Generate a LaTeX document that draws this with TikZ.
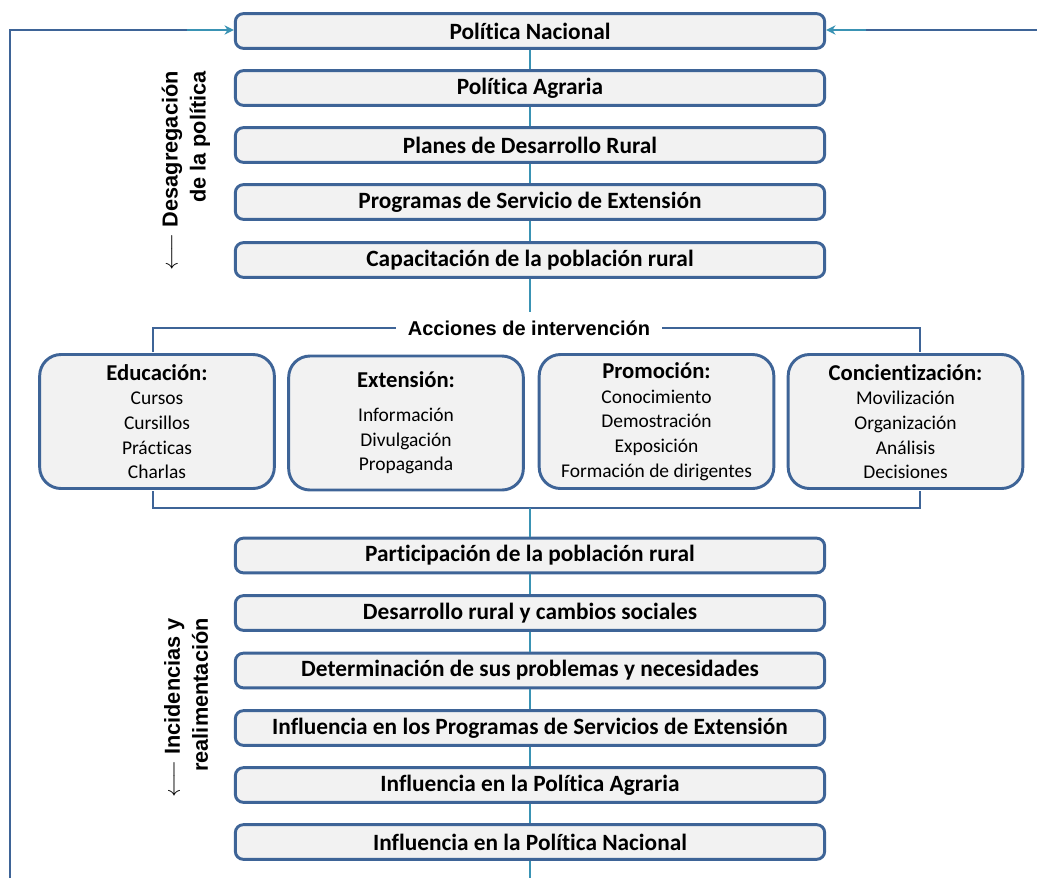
\documentclass[tikz,border=0pt]{standalone}
\usepackage{fontspec}
\setmainfont{Carlito}[Ligatures={NoCommon,NoRare}]
\newfontfamily\arialf{Liberation Sans}
\newcommand{\tiNL}{t\kern0pt i}
\usetikzlibrary{arrows.meta}
\definecolor{bdr}{HTML}{3E6497}
\definecolor{fillc}{HTML}{F2F2F2}
\definecolor{tealc}{HTML}{3A93B4}
\begin{document}
\begin{tikzpicture}[x=0.75pt,y=-0.75pt,
  mainbox/.style={draw=bdr, fill=fillc, line width=2.2pt, rounded corners=6pt,
    minimum width=442pt, minimum height=26pt, inner sep=0pt,
    font=\fontsize{17.5}{21}\selectfont\bfseries},
  bigbox/.style={draw=bdr, fill=fillc, line width=2.2pt, rounded corners=16pt,
    minimum width=176pt, minimum height=100.5pt, inner sep=0pt, align=center,
    font=\fontsize{14.6}{18.5}\selectfont},
  conn/.style={draw=tealc, line width=1.5pt},
  bline/.style={draw=bdr, line width=2.2pt},
  side/.style={rotate=90, anchor=east, align=right, inner sep=0pt,
    font=\arialf\fontsize{16.3}{21}\selectfont\bfseries},
  fb/.style={-{Stealth[length=7pt,width=7pt]}, draw=tealc, line width=2.2pt}
]
\useasboundingbox (0,0) rectangle (1037,878);

% top chain
\node[mainbox] (pn) at (530,31) {Polí\tiNL ca Nacional};
\node[mainbox] (pa) at (530,88) {Polí\tiNL ca Agraria};
\node[mainbox] (pd) at (530,145) {Planes de Desarrollo Rural};
\node[mainbox] (ps) at (530,202) {Programas de Servicio de Extensión};
\node[mainbox] (cap) at (530,260) {Capacitación de la población rural};

\draw[conn] (pn.south) -- (pa.north);
\draw[conn] (pa.south) -- (pd.north);
\draw[conn] (pd.south) -- (ps.north);
\draw[conn] (ps.south) -- (cap.north);

% side labels
\node[side] (lab1) at (186,71) {$\longleftarrow$ Desagregación\\de la política};
\node[side] (lab2) at (186,618) {$\longleftarrow$ Incidencias y\\realimentación};

% acciones
\node[font=\arialf\fontsize{15}{17}\selectfont\bfseries, inner xsep=9pt, inner ysep=6pt] (acc) at (529,328) {Acciones de intervención};
\draw[conn] (cap.south) -- (cap.south |- acc.north);

\node[bigbox] (edu) at (157,421.5) {{\fontsize{17}{18.5}\selectfont\bfseries Educación:}\\Cursos\\Cursillos\\Prác\tiNL cas\\Charlas};
\node[bigbox] (ext) at (406,423) {{\fontsize{17}{18.5}\selectfont\bfseries Extensión:}\\[7pt]Información\\Divulgación\\Propaganda};
\node[bigbox] (pro) at (656.5,421.5) {{\fontsize{17}{18.5}\selectfont\bfseries Promoción:}\\Conocimiento\\Demostración\\Exposición\\Formación de dirigentes};
\node[bigbox] (con) at (905.5,421.5) {{\fontsize{17}{18.5}\selectfont\bfseries Concien\tiNL zación:}\\Movilización\\Organización\\Análisis\\Decisiones};

\coordinate (tl) at (153,352);
\coordinate (tr) at (920,352);
\coordinate (bl) at (153,491);
\coordinate (br) at (920,491);
\coordinate (bm) at (530,508);
\draw[bline] (tl) |- (acc.west);
\draw[bline] (acc.east) -| (tr);
\draw[bline] (bl) |- (bm) -| (br);

% bottom chain
\node[mainbox] (pr) at (530,555.5) {Par\tiNL cipación de la población rural};
\node[mainbox] (dr) at (530,613) {Desarrollo rural y cambios sociales};
\node[mainbox] (dp) at (530,670.5) {Determinación de sus problemas y necesidades};
\node[mainbox] (ip) at (530,728) {Influencia en los Programas de Servicios de Extensión};
\node[mainbox] (ia) at (530,785) {Influencia en la Polí\tiNL ca Agraria};
\node[mainbox] (in) at (530,842) {Influencia en la Polí\tiNL ca Nacional};

\draw[conn] (bm) -- (pr.north);
\draw[conn] (pr.south) -- (dr.north);
\draw[conn] (dr.south) -- (dp.north);
\draw[conn] (dp.south) -- (ip.north);
\draw[conn] (ip.south) -- (ia.north);
\draw[conn] (ia.south) -- (in.north);
\coordinate (bot) at (530,878);
\draw[conn] (in.south) -- (bot);

% feedback lines
\coordinate (lb) at (10,878);
\coordinate (lk) at (187,30);
\coordinate (rb) at (1037,30);
\coordinate (rk) at (866,30);
\draw[bline] (lb) |- (lk);
\draw[fb] (lk) -- (pn.west |- lk);
\draw[bline] (rb) -- (rk);
\draw[fb] (rk) -- (pn.east |- rk);
\end{tikzpicture}
\end{document}
